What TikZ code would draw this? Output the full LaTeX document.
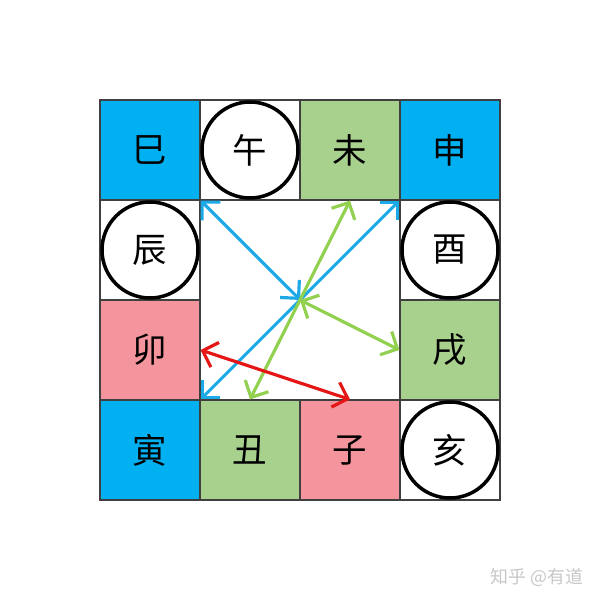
\documentclass[tikz,border=0pt]{standalone}
\usepackage{fontspec}
\usetikzlibrary{arrows.meta}
\newfontfamily\cjk{Noto Sans CJK SC}
\definecolor{cellblue}{HTML}{00B0F0}
\definecolor{cellgreen}{HTML}{A9D18E}
\definecolor{cellpink}{HTML}{F4949C}
\definecolor{arrblue}{HTML}{1CA9E6}
\definecolor{arrgreen}{HTML}{92D050}
\definecolor{arrred}{HTML}{E41616}
\tikzset{cell/.style={
    draw=black!75, line width=0.3pt, minimum size=1cm, inner sep=0pt,
    font=\cjk\fontsize{9.8}{10}\selectfont}
}
\tikzset{ring/.style={
    circle, draw, line width=1pt, minimum size=0.96cm, inner sep=0pt,
    font=\cjk\fontsize{9.8}{10}\selectfont}
}
\tikzset{link/.style={
    line width=0.9pt,
    {Straight Barb[length=1.3mm,width=2.6mm]}-{Straight Barb[length=1.3mm,width=2.6mm]}}
}
\begin{document}
\begin{tikzpicture}
        \useasboundingbox (0,0) rectangle (6,6);
        % top row
        \node[cell, fill=cellblue](si) at (1.5,4.5){巳};
        \node[cell](cwu) at (2.5,4.5){};
        \node[cell, fill=cellgreen](wei) at (3.5,4.5){未};
        \node[cell, fill=cellblue](shen) at (4.5,4.5){申};
        % sides
        \node[cell](cchen) at (1.5,3.5){};
        \node[cell](cyou) at (4.5,3.5){};
        \node[cell, fill=cellpink](mao) at (1.5,2.5){卯};
        \node[cell, fill=cellgreen](xu) at (4.5,2.5){戌};
        % bottom row
        \node[cell, fill=cellblue](yin) at (1.5,1.5){寅};
        \node[cell, fill=cellgreen](chou) at (2.5,1.5){丑};
        \node[cell, fill=cellpink](zi) at (3.5,1.5){子};
        \node[cell](chai) at (4.5,1.5){};
        
        %circled branches
        \node[ring](wu) at (cwu){午};
        \node[ring](chen) at (cchen){辰};
        \node[ring](you) at (cyou){酉};
        \node[ring](hai) at (chai){亥};
        
        \coordinate(hub) at (3,3);
        
        %links
        \draw[link, arrblue] (si.south east) -- (hub);
        \draw[link, arrblue] (yin.north east) -- (shen.south west);
        \draw[link, arrgreen] (wei.south) -- (chou.north);
        \draw[link, arrgreen] (hub) -- (xu.west);
        \draw[link, arrred] (mao.east) -- (zi.north);
        
        \node[text=black!22, font=\cjk\fontsize{5.1}{6}\selectfont](mark) at (5.37,0.23){知乎 @有道};
\end{tikzpicture}
\end{document}
